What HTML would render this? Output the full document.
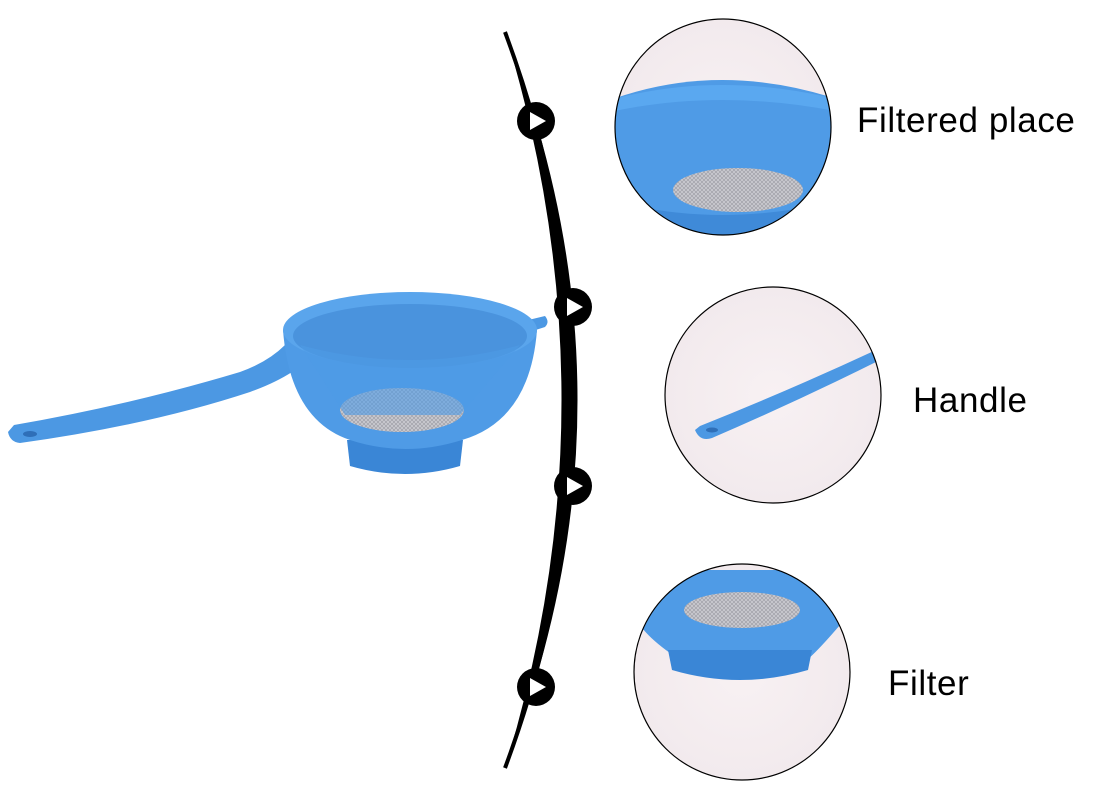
<!DOCTYPE html>
<html><head><meta charset="utf-8"><style>
html,body{margin:0;padding:0;background:#fff;}
svg{display:block}
text{font-family:"Liberation Sans",sans-serif;}
</style></head><body>
<svg width="1100" height="800" viewBox="0 0 1100 800" xmlns="http://www.w3.org/2000/svg">
<defs>
<radialGradient id="bg" cx="50%" cy="50%" r="50%"><stop offset="0" stop-color="#f8f1f3"/><stop offset="1" stop-color="#f2eaed"/></radialGradient>
<pattern id="mesh" width="4" height="4" patternUnits="userSpaceOnUse"><rect width="4" height="4" fill="#c9c9cf"/><path d="M0 0L4 4M4 0L0 4" stroke="#9a9aa2" stroke-width="0.6"/></pattern>
<clipPath id="c1"><circle cx="723" cy="127" r="108"/></clipPath>
<clipPath id="c2"><circle cx="773" cy="395" r="108"/></clipPath>
<clipPath id="c3"><circle cx="742" cy="672" r="108"/></clipPath>
</defs>
<path d="M505 32 Q650 400 505 768 Q618 400 505 32Z" fill="#000"/>
<path d="M505 32 Q642 400 505 768" fill="none" stroke="#000" stroke-width="4"/>
<g fill="#000">
<circle cx="536" cy="121" r="19"/><circle cx="573" cy="307" r="19"/><circle cx="573" cy="486" r="19"/><circle cx="536" cy="687" r="19"/>
</g>
<g fill="#fff">
<path d="M530 112 L546 121 L530 130Z"/><path d="M567 298 L583 307 L567 316Z"/><path d="M567 477 L583 486 L567 495Z"/><path d="M530 678 L546 687 L530 696Z"/>
</g>
<path d="M8 432 Q10 442 20 443 Q150 425 250 392 Q275 383 292 372 L285 345 Q268 362 240 372 Q130 405 14 425Z" fill="#4c98e3"/>
<ellipse cx="30" cy="434" rx="7" ry="3" fill="#2f6fb8"/>
<path d="M520 322 L545 316 Q550 322 545 327 L520 335Z" fill="#4c98e3"/>
<path d="M347 440 L350 466 Q405 482 460 466 L463 440Z" fill="#3a86d6"/>
<path d="M283 330 Q290 420 350 440 Q405 458 462 440 Q530 420 537 330Z" fill="#4f9be6"/>
<ellipse cx="410" cy="330" rx="127" ry="38" fill="#5aa5ec"/>
<ellipse cx="410" cy="336" rx="117" ry="32" fill="#4a93dd"/>
<ellipse cx="402" cy="410" rx="62" ry="22" fill="url(#mesh)"/>
<path d="M300 345 Q330 390 345 415 L460 415 Q490 380 520 345 Q410 375 300 345Z" fill="#4f9be6" opacity="0.6"/>
<circle cx="723" cy="127" r="108" fill="url(#bg)"/>
<g clip-path="url(#c1)">
<path d="M610 100 Q720 60 840 100 L840 240 L610 240Z" fill="#4f9be6"/>
<path d="M610 100 Q720 70 840 100 L840 112 Q720 88 610 112Z" fill="#5aa8f0"/>
<ellipse cx="738" cy="190" rx="65" ry="22" fill="url(#mesh)"/>
<path d="M610 200 Q720 230 840 200 L840 240 L610 240Z" fill="#3f8ad8"/>
</g>
<circle cx="723" cy="127" r="108" fill="none" stroke="#000" stroke-width="1.2"/>
<circle cx="773" cy="395" r="108" fill="url(#bg)"/>
<g clip-path="url(#c2)">
<path d="M695 430 Q700 442 712 438 Q800 400 880 360 L876 350 Q790 390 700 426Z" fill="#4c98e3"/>
<ellipse cx="712" cy="430" rx="6" ry="2.5" fill="#2f6fb8"/>
</g>
<circle cx="773" cy="395" r="108" fill="none" stroke="#000" stroke-width="1.2"/>
<circle cx="742" cy="672" r="108" fill="url(#bg)"/>
<g clip-path="url(#c3)">
<path d="M640 570 L840 570 L840 625 Q810 660 800 665 L805 660 Q740 690 680 660 Q650 640 640 625Z" fill="#4f9be6"/>
<path d="M668 650 L672 670 Q740 690 808 670 L812 650Z" fill="#3a86d6"/>
<ellipse cx="742" cy="610" rx="58" ry="18" fill="url(#mesh)"/>
</g>
<circle cx="742" cy="672" r="108" fill="none" stroke="#000" stroke-width="1.2"/>
<text x="857" y="132" font-size="35" letter-spacing="0.6" fill="#000">Filtered place</text>
<text x="913" y="412" font-size="35" letter-spacing="0.6" fill="#000">Handle</text>
<text x="888" y="695" font-size="35" letter-spacing="0.6" fill="#000">Filter</text>
</svg>
</body></html>
